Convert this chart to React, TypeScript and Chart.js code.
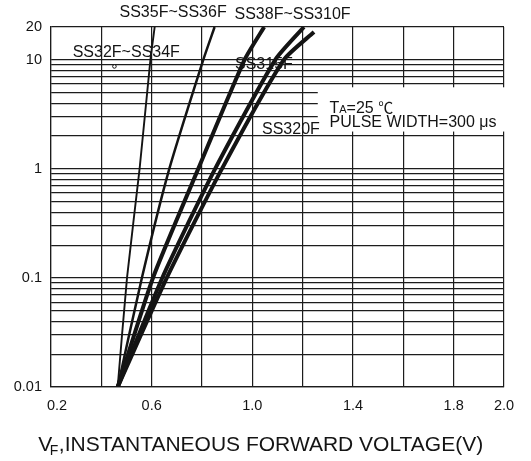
import React, { useEffect, useRef } from "react";
import { Chart, registerables } from "chart.js";

Chart.register(...registerables);

const FONT = '"Liberation Sans", Arial, "Noto Sans CJK SC", sans-serif';

// Forward current levels (A) at which the voltages were read
const currentA = [0.01, 0.1, 1, 10, 20];
const currentA_SS320 = [0.01, 0.1, 1, 10, 18];

// Instantaneous forward voltage (V) of each device family at those currents
const vf_SS32_34 = [0.465, 0.502, 0.552, 0.595, 0.612];
const vf_SS35_36 = [0.465, 0.561, 0.67, 0.805, 0.85];
const vf_SS38_310 = [0.465, 0.605, 0.785, 0.969, 1.047];
const vf_SS315 = [0.465, 0.642, 0.852, 1.091, 1.205];
const vf_SS320 = [0.465, 0.66, 0.879, 1.125, 1.245];

const seriesNames = ["SS32F~SS34F", "SS35F~SS36F", "SS38F~SS310F", "SS315F", "SS320F"];

// small open-circle marker near the SS32F~SS34F label
const markerV = [0.452];
const markerI = [8.7];

// axis ticks
const xTickValues = [0.2, 0.4, 0.6, 0.8, 1.0, 1.2, 1.4, 1.6, 1.8, 2.0];
const xLabelValues = [0.2, 0.6, 1.0, 1.4, 1.8, 2.0];
const yTickValues = [
  0.01, 0.02, 0.03, 0.04, 0.05, 0.06, 0.07, 0.08, 0.09,
  0.1, 0.2, 0.3, 0.4, 0.5, 0.6, 0.7, 0.8, 0.9,
  1, 2, 3, 4, 5, 6, 7, 8, 9,
  10, 20,
];
const yLabelValues = [0.01, 0.1, 1, 10, 20];

const near = (a: number, b: number) => Math.abs(a - b) < 1e-9;
const toPoints = (vs: number[], is: number[]) => vs.map((v, i) => ({ x: v, y: is[i] }));

const INK = "#141414";
const GRID = "#1c1c1c";

const annotationPlugin = {
  id: "datasheetAnnotations",
  beforeDatasetsDraw(chart: any) {
    const ctx = chart.ctx as CanvasRenderingContext2D;
    const xs = chart.scales.x;
    const ys = chart.scales.y;
    const area = chart.chartArea;
    ctx.save();
    // white panel behind the test-condition note
    const bx0 = xs.getPixelForValue(1.26);
    const by0 = ys.getPixelForValue(5.6);
    const by1 = ys.getPixelForValue(2.2);
    ctx.fillStyle = "#ffffff";
    ctx.fillRect(bx0, by0, area.right + 3 - bx0, by1 - by0);

    ctx.fillStyle = INK;
    ctx.textAlign = "left";
    ctx.textBaseline = "alphabetic";
    ctx.font = `16px ${FONT}`;
    ctx.fillText(seriesNames[1], 119.5, 16.7);
    ctx.fillText(seriesNames[2], 234.5, 19.3);
    ctx.fillText(seriesNames[0], 72.7, 57.3);
    ctx.fillText(seriesNames[3], 235, 69.3);
    ctx.fillText(seriesNames[4], 262, 134);

    // TA=25 ℃
    let x = 329.5;
    const b1 = 112.7;
    ctx.font = `16px ${FONT}`;
    ctx.fillText("T", x, b1);
    x += ctx.measureText("T").width;
    ctx.font = `11px ${FONT}`;
    ctx.fillText("A", x, b1);
    x += ctx.measureText("A").width;
    ctx.font = `16px ${FONT}`;
    ctx.fillText("=25 ", x, b1);
    x += ctx.measureText("=25 ").width;
    ctx.font = `15px "Noto Sans CJK SC", ${FONT}`;
    ctx.fillText("\u2103", x, b1);
    ctx.font = `16px ${FONT}`;
    ctx.fillText("PULSE WIDTH=300 \u03bcs", 329.5, 126.7);
    ctx.restore();
  },
  afterDraw(chart: any) {
    const ctx = chart.ctx as CanvasRenderingContext2D;
    ctx.save();
    ctx.fillStyle = INK;
    ctx.textAlign = "left";
    ctx.textBaseline = "alphabetic";
    let x = 38.3;
    const base = 450.7;
    ctx.font = `21px ${FONT}`;
    ctx.fillText("V", x, base);
    x += ctx.measureText("V").width - 2.5;
    ctx.font = `14px ${FONT}`;
    ctx.fillText("F", x, base + 4.5);
    x += ctx.measureText("F").width + 0.5;
    ctx.font = `21px ${FONT}`;
    ctx.fillText(",INSTANTANEOUS FORWARD VOLTAGE(V)", x, base);
    ctx.restore();
  },
};

export default function App() {
  const ref = useRef<HTMLCanvasElement>(null);
  useEffect(() => {
    const common = {
      borderColor: INK,
      pointRadius: 0,
      fill: false,
      tension: 0.2,
      borderCapStyle: "butt" as const,
    };
    const chart = new Chart(ref.current!, {
      type: "line",
      data: {
        datasets: [
          { ...common, label: seriesNames[0], data: toPoints(vf_SS32_34, currentA), borderWidth: 1.9 },
          { ...common, label: seriesNames[1], data: toPoints(vf_SS35_36, currentA), borderWidth: 2.5 },
          { ...common, label: seriesNames[2], data: toPoints(vf_SS38_310, currentA), borderWidth: 4 },
          { ...common, label: seriesNames[3], data: toPoints(vf_SS315, currentA), borderWidth: 4 },
          { ...common, label: seriesNames[4], data: toPoints(vf_SS320, currentA_SS320), borderWidth: 4 },
          {
            label: "marker",
            data: toPoints(markerV, markerI),
            showLine: false,
            pointRadius: 1.8,
            pointBorderWidth: 1,
            pointBackgroundColor: "#ffffff",
            pointBorderColor: INK,
          },
        ],
      },
      options: {
        responsive: false,
        animation: false,
        layout: { padding: { top: 27, right: 27, bottom: 0, left: 0 } },
        plugins: { legend: { display: false }, tooltip: { enabled: false }, title: { display: false } },
        scales: {
          x: {
            type: "linear",
            min: 0.2,
            max: 2.0,
            afterBuildTicks: (s: any) => {
              s.ticks = xTickValues.map((v) => ({ value: v }));
            },
            afterFit: (s: any) => {
              s.height = 74;
            },
            ticks: {
              autoSkip: false,
              maxRotation: 0,
              minRotation: 0,
              padding: 10,
              color: INK,
              font: { family: FONT, size: 14.5 },
              callback: (v: any) => {
                const n = Number(v);
                if (!xLabelValues.some((l) => near(l, n))) return "";
                const t = n.toFixed(1);
                return near(n, 0.2) ? "   " + t : t;
              },
            },
            grid: { color: GRID, lineWidth: 1.2, drawTicks: false },
            border: { color: GRID, width: 1.2 },
          },
          y: {
            type: "logarithmic",
            min: 0.01,
            max: 20,
            afterBuildTicks: (s: any) => {
              s.ticks = yTickValues.map((v) => ({ value: v }));
            },
            afterFit: (s: any) => {
              s.width = 51;
            },
            ticks: {
              autoSkip: false,
              padding: 9,
              color: INK,
              font: { family: FONT, size: 14.5 },
              callback: (v: any) => {
                const n = Number(v);
                return yLabelValues.some((l) => near(l, n)) ? String(n) : "";
              },
            },
            grid: { color: GRID, lineWidth: 1.2, drawTicks: false },
            border: { color: GRID, width: 1.2 },
          },
        },
      },
      plugins: [annotationPlugin],
    } as any);
    return () => chart.destroy();
  }, []);

  return (
    <div style={{ position: "absolute", left: 0, top: 0, width: 531, height: 461, background: "#fff" }}>
      <canvas ref={ref} width={531} height={461} style={{ display: "block", width: 531, height: 461 }} />
    </div>
  );
}
